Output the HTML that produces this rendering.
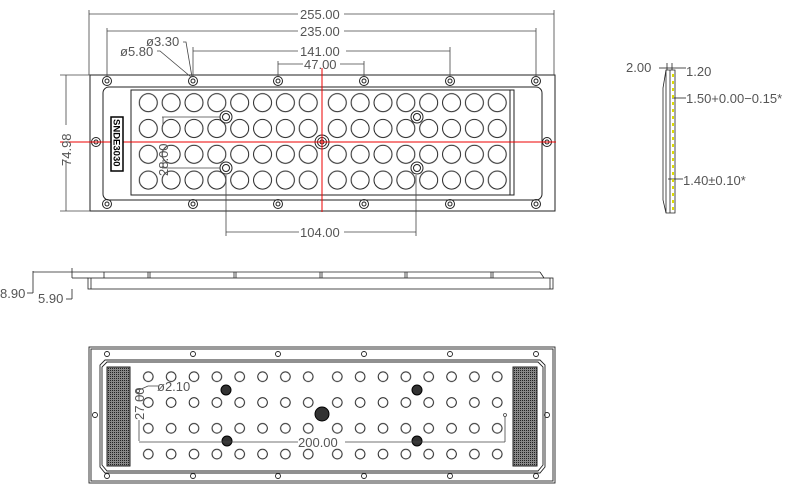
<!DOCTYPE html>
<html><head><meta charset="utf-8"><style>
html,body{margin:0;padding:0;background:#fff}
svg{display:block}
text{font-family:"Liberation Sans",sans-serif;fill:#555;font-size:13px}
</style></head><body>
<svg width="800" height="498" viewBox="0 0 800 498" xmlns="http://www.w3.org/2000/svg">
<defs>
<pattern id="lensL" x="137.3" y="89.8" width="22.85" height="25.8" patternUnits="userSpaceOnUse">
<circle cx="11" cy="12.9" r="9" fill="none" stroke="#222" stroke-width="1"/></pattern>
<pattern id="lensR" x="326.3" y="89.8" width="22.85" height="25.8" patternUnits="userSpaceOnUse">
<circle cx="11" cy="12.9" r="9" fill="none" stroke="#222" stroke-width="1"/></pattern>
<pattern id="lensbL" x="137.3" y="363.8" width="22.85" height="25.8" patternUnits="userSpaceOnUse">
<circle cx="11" cy="12.9" r="4.8" fill="none" stroke="#222" stroke-width="1"/></pattern>
<pattern id="lensbR" x="326.3" y="363.8" width="22.85" height="25.8" patternUnits="userSpaceOnUse">
<circle cx="11" cy="12.9" r="4.8" fill="none" stroke="#222" stroke-width="1"/></pattern>
<pattern id="mesh" width="2" height="2" patternUnits="userSpaceOnUse">
<rect width="2" height="2" fill="#888"/><rect width="1" height="1" fill="#222"/></pattern>
</defs>
<g fill="none" stroke="#222" stroke-width="1">
<rect x="90" y="75" width="465" height="136"/>
<rect x="103" y="87" width="439" height="113" rx="6"/>
<rect x="131" y="90" width="383" height="105"/>
<line x1="510" y1="90" x2="510" y2="195"/>
</g>
<rect x="137.3" y="90" width="183" height="104" fill="url(#lensL)"/>
<rect x="326.3" y="90" width="183" height="104" fill="url(#lensR)"/>
<g fill="none" stroke="#222" stroke-width="1">
<g id="mh"><circle cx="107" cy="81" r="4.5"/><circle cx="107" cy="81" r="2"/></g>
<use href="#mh" x="86"/><use href="#mh" x="171"/><use href="#mh" x="257"/><use href="#mh" x="343"/><use href="#mh" x="429"/>
<use href="#mh" y="123"/><use href="#mh" x="86" y="123"/><use href="#mh" x="171" y="123"/><use href="#mh" x="257" y="123"/><use href="#mh" x="343" y="123"/><use href="#mh" x="429" y="123"/>
<use href="#mh" x="-11" y="61"/><use href="#mh" x="440" y="61"/>
<circle cx="322" cy="142" r="7"/><circle cx="322" cy="142" r="4.5"/><circle cx="322" cy="142" r="2"/>
<circle cx="226" cy="117" r="6"/><circle cx="226" cy="117" r="3.5"/>
<circle cx="417" cy="117" r="6"/><circle cx="417" cy="117" r="3.5"/>
<circle cx="226" cy="168" r="6"/><circle cx="226" cy="168" r="3.5"/>
<circle cx="417" cy="168" r="6"/><circle cx="417" cy="168" r="3.5"/>
</g>
<line x1="60" y1="142" x2="556" y2="142" stroke="#e00" stroke-width="1"/>
<line x1="322" y1="68" x2="322" y2="212" stroke="#e00" stroke-width="1"/>
<rect x="111" y="117" width="12" height="54" fill="#fff" stroke="#000" stroke-width="1.5"/>
<text x="0" y="0" transform="translate(113.5,119) rotate(90)" style="font-size:9.5px;font-weight:bold;fill:#000">SNDE3030</text>
<g stroke="#444" stroke-width="0.8" fill="none">
<line x1="89" y1="10" x2="89" y2="75"/><line x1="554" y1="10" x2="554" y2="75"/>
<line x1="89" y1="14" x2="298" y2="14"/><line x1="344" y1="14" x2="554" y2="14"/>
<line x1="107" y1="28" x2="107" y2="77"/><line x1="536" y1="28" x2="536" y2="77"/>
<line x1="107" y1="31" x2="298" y2="31"/><line x1="344" y1="31" x2="536" y2="31"/>
<line x1="193" y1="47" x2="193" y2="77"/><line x1="450" y1="47" x2="450" y2="77"/>
<line x1="193" y1="51" x2="298" y2="51"/><line x1="346" y1="51" x2="450" y2="51"/>
<line x1="278" y1="61" x2="278" y2="77"/><line x1="364" y1="61" x2="364" y2="77"/>
<line x1="278" y1="64" x2="303" y2="64"/><line x1="340" y1="64" x2="364" y2="64"/>
<polyline points="183,42 186,42 192,77"/><polyline points="157,51 160,51 191,77"/>
<line x1="60" y1="75" x2="90" y2="75"/><line x1="60" y1="211" x2="90" y2="211"/>
<line x1="66" y1="75" x2="66" y2="125"/><line x1="66" y1="160" x2="66" y2="211"/>
<line x1="226" y1="175" x2="226" y2="236"/><line x1="416" y1="175" x2="416" y2="236"/>
<line x1="226" y1="232" x2="299" y2="232"/><line x1="344" y1="232" x2="416" y2="232"/>
<line x1="162" y1="117" x2="220" y2="117"/><line x1="162" y1="168" x2="220" y2="168"/>
<line x1="163" y1="117" x2="163" y2="125"/><line x1="163" y1="160" x2="163" y2="168"/>
</g>
<text x="300" y="19">255.00</text>
<text x="300" y="36">235.00</text>
<text x="300" y="56">141.00</text>
<text x="304" y="69">47.00</text>
<text x="146" y="46">ø3.30</text>
<text x="120" y="56">ø5.80</text>
<text transform="translate(71,166) rotate(-90)">74.98</text>
<text transform="translate(168,176) rotate(-90)">28.00</text>
<text x="300" y="237">104.00</text>
<g stroke="#222" stroke-width="0.8" fill="none">
<polygon points="663,88 666,70 675,70 675,213 666,213 663,200"/>
<line x1="666" y1="70" x2="666" y2="213"/><line x1="670" y1="70" x2="670" y2="213"/>
<line x1="659" y1="68" x2="672" y2="68"/><line x1="667" y1="63" x2="667" y2="70"/><line x1="672" y1="63" x2="672" y2="70"/>
<line x1="672" y1="68" x2="686" y2="68"/><line x1="672" y1="98" x2="686" y2="98"/><line x1="668" y1="179" x2="683" y2="179"/>
</g>
<g stroke="#dd0" stroke-width="2" stroke-dasharray="3,4"><line x1="673" y1="74" x2="673" y2="212"/></g>
<text x="626" y="72">2.00</text>
<text x="686" y="76">1.20</text>
<text x="686" y="103">1.50+0.00−0.15*</text>
<text x="683" y="185">1.40±0.10*</text>
<g stroke="#222" stroke-width="0.8" fill="none">
<line x1="72" y1="272" x2="540" y2="272"/>
<line x1="72" y1="268" x2="72" y2="278"/>
<rect x="88" y="278" width="465" height="11"/>
<line x1="91" y1="278" x2="91" y2="289"/><line x1="550" y1="278" x2="550" y2="289"/>
<line x1="540" y1="272" x2="544" y2="278"/>
<line x1="104" y1="272" x2="104" y2="278"/><line x1="148" y1="272" x2="148" y2="278"/><line x1="150" y1="272" x2="150" y2="278"/>
<line x1="234" y1="272" x2="234" y2="278"/><line x1="236" y1="272" x2="236" y2="278"/>
<line x1="320" y1="272" x2="320" y2="278"/><line x1="322" y1="272" x2="322" y2="278"/>
<line x1="405" y1="272" x2="405" y2="278"/><line x1="407" y1="272" x2="407" y2="278"/>
<line x1="491" y1="272" x2="491" y2="278"/><line x1="493" y1="272" x2="493" y2="278"/>
<line x1="33" y1="272" x2="72" y2="272"/><line x1="33" y1="271" x2="33" y2="293"/><line x1="27" y1="293" x2="33" y2="293"/>
<line x1="72" y1="278" x2="88" y2="278"/><line x1="72" y1="289" x2="72" y2="299"/><line x1="66" y1="299" x2="72" y2="299"/>
</g>
<text x="0" y="298">8.90</text>
<text x="38" y="303">5.90</text>
<g stroke="#222" stroke-width="0.9" fill="none">
<rect x="89" y="347" width="466" height="136"/>
<rect x="91" y="349" width="462" height="132"/>
<polygon points="105,360 540,360 545,365 545,467 540,473 105,473 100,467 100,365"/>
<polygon points="107,362 538,362 543,367 543,465 538,471 107,471 102,465 102,367"/>
<g id="bh"><circle cx="107" cy="354" r="2.5"/></g>
<use href="#bh" x="86"/><use href="#bh" x="171"/><use href="#bh" x="257"/><use href="#bh" x="343"/><use href="#bh" x="429"/>
<use href="#bh" y="122"/><use href="#bh" x="86" y="122"/><use href="#bh" x="171" y="122"/><use href="#bh" x="257" y="122"/><use href="#bh" x="343" y="122"/><use href="#bh" x="429" y="122"/>
<circle cx="95" cy="415" r="2.5"/><circle cx="547" cy="415" r="2.5"/>
</g>
<rect x="107" y="367" width="23" height="99" fill="url(#mesh)" stroke="#222"/>
<rect x="513" y="367" width="24" height="99" fill="url(#mesh)" stroke="#222"/>
<rect x="137.3" y="364" width="183" height="104" fill="url(#lensbL)"/>
<rect x="326.3" y="364" width="183" height="104" fill="url(#lensbR)"/>
<g fill="#333" stroke="#000"><circle cx="226" cy="390" r="5"/><circle cx="417" cy="390" r="5"/><circle cx="322" cy="414" r="7"/><circle cx="227" cy="441" r="5"/><circle cx="417" cy="441" r="5"/></g>
<g stroke="#444" stroke-width="0.8" fill="none">
<circle cx="138" cy="391" r="1.5"/><circle cx="505" cy="415" r="1.5"/>
<polyline points="139,390 148,386 158,386"/>
<line x1="139" y1="392" x2="139" y2="401"/><line x1="139" y1="420" x2="139" y2="441"/>
<line x1="139" y1="442" x2="298" y2="442"/><line x1="345" y1="442" x2="505" y2="442"/>
<line x1="505" y1="416" x2="505" y2="442"/>
</g>
<text x="157" y="391">ø2.10</text>
<text transform="translate(144,420) rotate(-90)">27.00</text>
<text x="298" y="447">200.00</text>
</svg>
</body></html>
